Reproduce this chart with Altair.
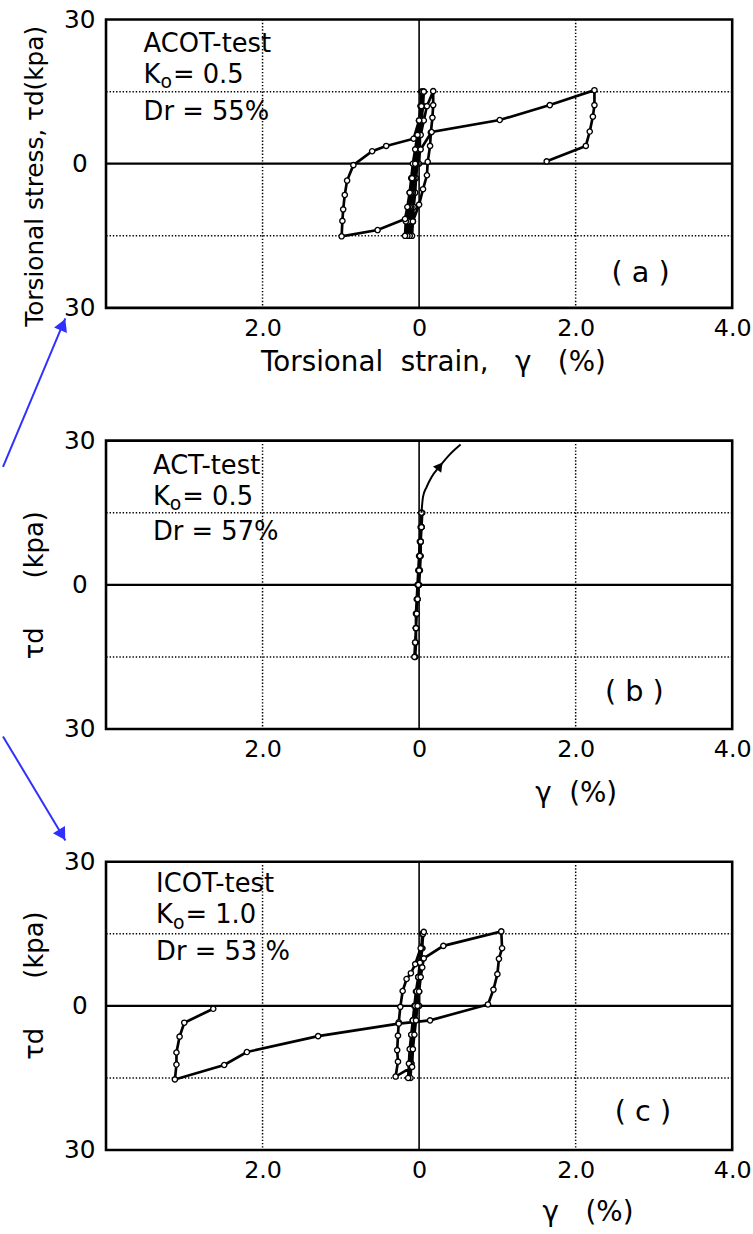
import altair as alt
import pandas as pd

FONT = "DejaVu Sans"
NB = "\u00a0"

# ---------------- data ----------------
# Panel (a) ACOT-test: stress-strain path (strain %, stress kPa), in loading order
A_X = [0.00, 0.01, 0.01, 0.02, 0.02, 0.03,
       0.02, 0.00, -0.01, -0.02, -0.03, -0.05, -0.06, -0.07, -0.08, -0.09,
       -0.08, -0.07, -0.05, -0.04, -0.02, -0.01, 0.00, 0.02, 0.03, 0.04,
       0.03, 0.01, -0.01, -0.03, -0.05, -0.07, -0.08, -0.10, -0.11, -0.12,
       -0.11, -0.10, -0.08, -0.06, -0.04, -0.02, 0.00, 0.02, 0.04, 0.06,
       0.05, 0.03, 0.00, -0.03, -0.06, -0.09, -0.10, -0.12, -0.13, -0.15,
       -0.14, -0.12, -0.10, -0.08, -0.05, -0.02, 0.02, 0.06, 0.10, 0.18,
       0.18, 0.17, 0.15, 0.14, 0.11, 0.10, 0.05, 0.00, -0.08, -0.18,
       -0.17, -0.14, -0.12, -0.10, -0.08, -0.05, -0.02, 0.00, 0.03, 0.06,
       0.03, 0.00, -0.07, -0.42, -0.60, -0.84, -0.92, -0.95, -0.97, -0.98, -0.99,
       -0.53, -0.18, -0.15, -0.12, -0.09, -0.05, 0.02, 0.16, 1.03, 1.67, 2.24,
       2.24, 2.22, 2.18, 2.13, 1.63]
A_Y = [0, 3, 6, 9, 12, 15,
       12, 9, 6, 3, 0, -3, -6, -9, -12, -15,
       -12, -9, -6, -3, 0, 3, 6, 9, 12, 15,
       12, 9, 6, 3, 0, -3, -6, -9, -12, -15,
       -12, -9, -6, -3, 0, 3, 6, 9, 12, 15,
       12, 9, 6, 3, 0, -3, -6, -9, -12, -15,
       -12, -9, -6, -3, 0, 3, 6, 9, 12, 15.1,
       12.2, 9.6, 6.5, 3.7, 0.4, -2.4, -5.3, -8.5, -12, -15,
       -12, -9, -6, -3, 0, 3, 6, 9, 12, 15,
       12, 9, 5.2, 3.7, 2.6, -0.3, -3.5, -6.5, -9.5, -11.9, -15.1,
       -13.8, -11.5, -9, -6, -3, 0, 3, 6.6, 9.1, 12.2, 15.3,
       12.2, 9.8, 6.7, 3.7, 0.5]

# Panel (b) ACT-test
B_X = [0.00, 0.01, 0.02, 0.02, 0.03, 0.03,
       0.02, 0.01, 0.00, -0.01, -0.02, -0.03, -0.04, -0.04, -0.05, -0.05,
       -0.04, -0.04, -0.03, -0.02, -0.01, 0.00, 0.01, 0.02, 0.03, 0.04,
       0.03, 0.02, 0.01, 0.00, -0.01, -0.02, -0.03, -0.04, -0.05, -0.06,
       -0.05, -0.04, -0.03, -0.02, -0.01, 0.00, 0.01, 0.02, 0.03, 0.03]
B_Y = [0, 3, 6, 9, 12, 15,
       12, 9, 6, 3, 0, -3, -6, -9, -12, -15,
       -12, -9, -6, -3, 0, 3, 6, 9, 12, 15,
       12, 9, 6, 3, 0, -3, -6, -9, -12, -15,
       -12, -9, -6, -3, 0, 3, 6, 9, 12, 15]
B_CURVE_X = [0.03, 0.05, 0.094, 0.158, 0.265, 0.39, 0.53]
B_CURVE_Y = [15, 18.3, 20.3, 22.4, 24.7, 27.1, 29.2]
B_HEAD = (0.265, 24.7)

# Panel (c) ICOT-test
C_X = [0.00, 0.00, 0.01, 0.02, 0.03, 0.04,
       0.03, 0.01, -0.01, -0.03, -0.05, -0.07, -0.08, -0.09, -0.10, -0.11,
       -0.10, -0.09, -0.07, -0.05, -0.03, -0.01, 0.01, 0.02, 0.04, 0.05,
       0.04, 0.02, -0.01, -0.04, -0.06, -0.08, -0.10, -0.11, -0.12, -0.14,
       -0.13, -0.12, -0.10, -0.08, -0.05, -0.03, -0.01, 0.01, 0.03, 0.06,
       0.02, -0.05, -0.105, -0.16, -0.21, -0.24, -0.26, -0.27, -0.28, -0.27, -0.30,
       -0.09, -0.08, -0.06, -0.04, -0.02, 0.00, 0.02, 0.04, 0.06, 0.31, 1.05,
       1.06, 1.02, 1.00, 0.95, 0.88, 0.14, -0.26, -1.29, -2.20, -2.49, -3.12,
       -3.10, -3.10, -3.06, -3.00, -2.63]
C_Y = [0, 3, 6, 9, 12, 15,
       12, 9, 6, 3, 0, -3, -6, -9, -12, -15,
       -12, -9, -6, -3, 0, 3, 6, 9, 12, 15,
       12, 9, 6, 3, 0, -3, -6, -9, -12, -15,
       -12, -9, -6, -3, 0, 3, 6, 9, 12, 15.4,
       12, 8.7, 6.8, 5.6, 3.1, -0.2, -3.4, -6.2, -9.2, -11.6, -14.7,
       -12.7, -9, -6, -3, 0, 3, 6, 8, 9.9, 12.5, 15.5,
       12, 9.8, 6.6, 3.4, 0.3, -3.0, -3.7, -6.3, -9.6, -12.3, -15.3,
       -12.2, -9.7, -6.4, -3.5, -0.6]

# annotations: test name, K(o) value, relative density
TEST_NAMES = ["ACOT-test", "ACT-test", "ICOT-test"]
K_VALUES = ["= 0.5", "= 0.5", NB + "= 1.0"]
DR_TEXT = ["Dr = 55%", "Dr = 57%", "Dr = 53 %"]
NAME_Y = [24.9, 24.8, 25.4]
K_Y = [18.4, 18.3, 18.8]
DR_Y = [10.7, 10.9, 11.1]
TEXT_X = [-3.52, -3.40, -3.36]
PANEL_LABELS = ["(" + NB + "a" + NB + ")", "(" + NB + "b" + NB + ")", "(" + NB + "c" + NB + ")"]
PANEL_LABEL_X = [2.83, 2.75, 2.86]
PANEL_LABEL_Y = [-22.8, -22.4, -22.0]

# blue pointer arrows (data coordinates of the panel they are drawn in)
ARROW1 = dict(x=-5.316, y=-63.1, x2=-4.52, y2=-32.2, hx=-4.551, hy=-33.5, angle=23)
ARROW2 = dict(x=-5.316, y=56.08, x2=-4.519, y2=34.43, hx=-4.561, hy=35.6, angle=149)

X_TICKS = [-2, 0, 2, 4]
Y_TICKS = [-30, 0, 30]
GRID_X = [-2, 2]
GRID_Y = [-15, 15]
ZERO = [0]

W, H = 632, 291
BLUE = "#2f2fff"


def xenc(title, tx, ty):
    return alt.X("x:Q",
                 scale=alt.Scale(domain=[-4, 4], nice=False, zero=False),
                 axis=alt.Axis(values=X_TICKS,
                               labelExpr="datum.value == 0 ? '0' : format(abs(datum.value), '.1f')",
                               labelFlush=False, labelOverlap=False, labelPadding=9,
                               labelFontSize=24, title=title, titleFontSize=28,
                               titleX=tx, titleY=ty, titleAlign="center",
                               titleBaseline="middle"))


def yenc(title, tx, ty, align, size):
    return alt.Y("y:Q",
                 scale=alt.Scale(domain=[-30, 30], nice=False, zero=False),
                 axis=alt.Axis(values=Y_TICKS,
                               labelExpr="datum.value == 0 ? '0' : '30'",
                               labelAlign="center", labelBaseline="middle",
                               labelPadding=27, labelFontSize=25,
                               title=title, titleFontSize=size, titleAngle=270,
                               titleX=tx, titleY=ty, titleAlign=align,
                               titleBaseline="middle"))


def text_layer(X, Y, xs, ys, ts, size, align="left"):
    d = pd.DataFrame({"x": xs, "y": ys, "t": ts})
    return alt.Chart(d).mark_text(align=align, baseline="middle", font=FONT,
                                  fontSize=size, color="black").encode(x=X, y=Y, text="t:N")


def panel(k, px, py, xt, ytl, extra):
    X = xenc(*xt)
    Y = yenc(*ytl)
    grid_v = alt.Chart(pd.DataFrame({"x": GRID_X})).mark_rule(
        color="black", strokeWidth=1.5, strokeDash=[1.4, 1.9]).encode(x=X)
    grid_h = alt.Chart(pd.DataFrame({"y": GRID_Y})).mark_rule(
        color="black", strokeWidth=1.5, strokeDash=[1.4, 1.9]).encode(y=Y)
    zero_v = alt.Chart(pd.DataFrame({"x": ZERO})).mark_rule(
        color="black", strokeWidth=1.6).encode(x=X)
    zero_h = alt.Chart(pd.DataFrame({"y": ZERO})).mark_rule(
        color="black", strokeWidth=2.3).encode(y=Y)
    df = pd.DataFrame({"x": px, "y": py, "i": list(range(len(px)))})
    line = alt.Chart(df).mark_line(color="black", strokeWidth=2.7).encode(
        x=X, y=Y, order="i:Q")
    pts = alt.Chart(df).mark_circle(fill="white", stroke="black", strokeWidth=1.4,
                                    size=28, opacity=1).encode(x=X, y=Y)
    x0 = TEXT_X[k]
    t_main = text_layer(X, Y, [x0, x0, x0], [NAME_Y[k], K_Y[k], DR_Y[k]],
                        [TEST_NAMES[k], "K", DR_TEXT[k]], 26)
    t_sub = text_layer(X, Y, [x0 + 0.215], [K_Y[k] - 1.5], ["o"], 19)
    t_kval = text_layer(X, Y, [x0 + 0.375], [K_Y[k]], [K_VALUES[k]], 26)
    lab = text_layer(X, Y, [PANEL_LABEL_X[k]], [PANEL_LABEL_Y[k]], [PANEL_LABELS[k]], 29, "center")
    layers = [grid_v, grid_h, zero_v, zero_h, line, pts, t_main, t_sub, t_kval, lab] + [e(X, Y) for e in extra]
    return alt.layer(*layers).properties(width=W, height=H)


def blue_arrow(a):
    def make(X, Y):
        d = pd.DataFrame({"x": [a["x"]], "y": [a["y"]], "x2": [a["x2"]], "y2": [a["y2"]]})
        ln = alt.Chart(d).mark_rule(color=BLUE, strokeWidth=2).encode(
            x=X, y=Y, x2="x2:Q", y2="y2:Q")
        h = pd.DataFrame({"x": [a["hx"]], "y": [a["hy"]]})
        hd = alt.Chart(h).mark_point(shape="triangle-up", filled=True, color=BLUE,
                                     opacity=1, size=200, angle=a["angle"]).encode(x=X, y=Y)
        return alt.layer(ln, hd)
    return make


def b_curve(X, Y):
    d = pd.DataFrame({"x": B_CURVE_X, "y": B_CURVE_Y, "i": list(range(len(B_CURVE_X)))})
    ln = alt.Chart(d).mark_line(color="black", strokeWidth=2, interpolate="monotone").encode(
        x=X, y=Y, order="i:Q")
    h = pd.DataFrame({"x": [B_HEAD[0]], "y": [B_HEAD[1]]})
    hd = alt.Chart(h).mark_point(shape="triangle-up", filled=True, color="black",
                                 opacity=1, size=110, angle=38).encode(x=X, y=Y)
    return alt.layer(ln, hd)


pa = panel(0, A_X, A_Y,
           ("Torsional" + NB + NB + "strain," + NB + NB + NB + "\u03b3" + NB + NB + NB + "(%)", 330, 55.5),
           ("Torsional stress, \u03c4d(kpa)", -72, 309.5, "left", 25),
           [blue_arrow(ARROW1)])
pb = panel(1, B_X, B_Y,
           ("\u03b3" + NB + NB + "(%)", 474, 65),
           ("\u03c4d" + NB * 6 + "(kpa)", -72, 145.5, "center", 26),
           [b_curve])
pc = panel(2, C_X, C_Y,
           ("\u03b3" + NB + NB + NB + "(%)", 486, 63.5),
           ("\u03c4d" + NB * 6 + "(kpa)", -72, 124.5, "center", 26),
           [blue_arrow(ARROW2)])

chart = alt.vconcat(pa, pb, pc, spacing=134, bounds="flush").properties(
    padding={"left": 0, "top": 0, "right": 0, "bottom": 2},
    background="white",
).configure_view(
    stroke="black", strokeWidth=2.6
).configure_axis(
    grid=False, ticks=False, domain=False, tickSize=0,
    labelFont=FONT, titleFont=FONT, labelColor="black", titleColor="black",
    titleFontWeight="normal"
)

chart.save("out.html", embed_options={"renderer": "svg", "actions": False})
